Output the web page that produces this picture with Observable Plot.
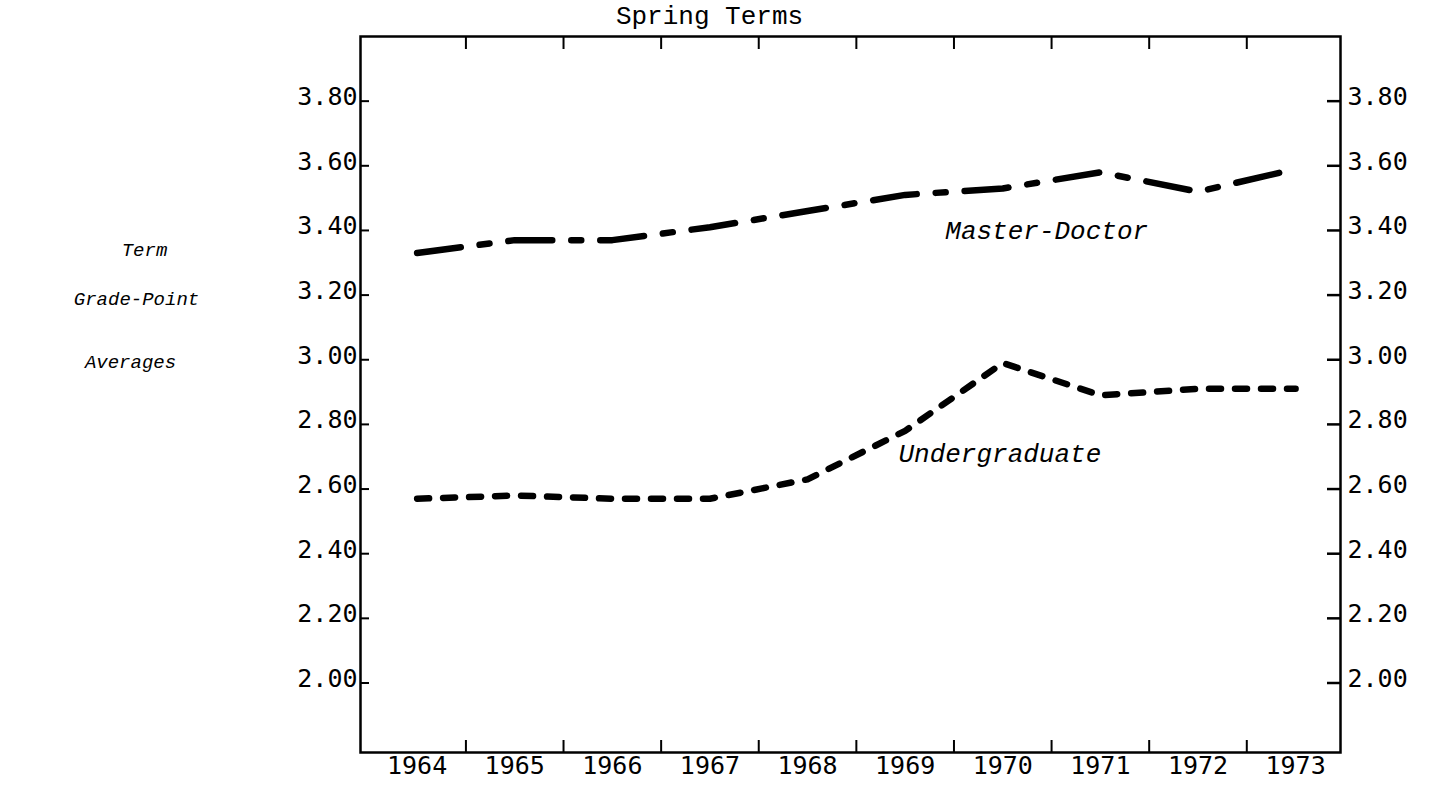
<!DOCTYPE html>
<html>
<head>
<meta charset="utf-8">
<script src="https://cdn.jsdelivr.net/npm/d3@7"></script>
<script src="https://cdn.jsdelivr.net/npm/@observablehq/plot@0.6"></script>
<style>
  html, body { margin: 0; padding: 0; background: #fff; }
  #chart svg { display: block; }
</style>
</head>
<body>
<div id="chart"></div>
<script>
// ---- data ----
const years = [1964, 1965, 1966, 1967, 1968, 1969, 1970, 1971, 1972, 1973];
const masterDoctor = [3.33, 3.37, 3.37, 3.41, 3.46, 3.51, 3.53, 3.58, 3.52, 3.59];
const undergraduate = [2.57, 2.58, 2.57, 2.57, 2.63, 2.78, 2.99, 2.89, 2.91, 2.91];
const yTicks = [2.00, 2.20, 2.40, 2.60, 2.80, 3.00, 3.20, 3.40, 3.60, 3.80];
const xBoundaries = [1964.5, 1965.5, 1966.5, 1967.5, 1968.5, 1969.5, 1970.5, 1971.5, 1972.5];
const title = "Spring Terms";
const yLabelLines = ["Term", "Grade-Point", "Averages"];
const seriesNames = ["Master-Doctor", "Undergraduate"];

// ---- layout ----
const W = 1432, H = 789;
const mL = 360, mR = 92, mT = 36, mB = 37;
const plotW = W - mL - mR, plotH = H - mT - mB;

const mdData = years.map((yr, i) => ({year: yr, gpa: masterDoctor[i]}));
const ugData = years.map((yr, i) => ({year: yr, gpa: undergraduate[i]}));
const fmt = d3.format(".2f");
const mono = "'DejaVu Sans Mono', monospace";
const typeMono = "'Liberation Mono', 'Courier New', monospace";

const yLabelDx = [-216, -224, -230];
const yLabelDy = [-145, -96, -33];

const chart = Plot.plot({
  width: W, height: H,
  marginLeft: mL, marginRight: mR, marginTop: mT, marginBottom: mB,
  x: {domain: [1963.42, 1973.46], axis: null},
  y: {domain: [1.785, 4.0], axis: null},
  style: {fontFamily: mono, fontSize: "25px", color: "#000", background: "#fff"},
  marks: [
    Plot.frame({stroke: "#000", strokeWidth: 2.5}),
    // inward ticks on top and bottom
    Plot.tickX(xBoundaries, {x: d => d, stroke: "#000", strokeWidth: 2, insetBottom: plotH - 13}),
    Plot.tickX(xBoundaries, {x: d => d, stroke: "#000", strokeWidth: 2, insetTop: plotH - 12}),
    // inward ticks on left and right
    Plot.tickY(yTicks, {y: d => d, stroke: "#000", strokeWidth: 2, insetRight: plotW - 9}),
    Plot.tickY(yTicks, {y: d => d, stroke: "#000", strokeWidth: 2.5, insetLeft: plotW - 13}),
    // y tick labels (baseline sits on the tick)
    Plot.text(yTicks, {y: d => d, text: d => fmt(d), frameAnchor: "left", textAnchor: "end", lineAnchor: "bottom", dx: -3, dy: 4, fontSize: 25, fontFamily: mono}),
    Plot.text(yTicks, {y: d => d, text: d => fmt(d), frameAnchor: "right", textAnchor: "start", lineAnchor: "bottom", dx: 7, dy: 4, fontSize: 25, fontFamily: mono}),
    // x labels
    Plot.text(years, {x: d => d, text: d => String(d), frameAnchor: "bottom", lineAnchor: "top", dy: 4, fontSize: 25, fontFamily: mono}),
    // lines
    Plot.lineY(mdData, {x: "year", y: "gpa", stroke: "#000", strokeWidth: 6.5, strokeLinecap: "round", strokeLinejoin: "round", strokeDasharray: "44,19,10,19"}),
    Plot.lineY(ugData, {x: "year", y: "gpa", stroke: "#000", strokeWidth: 6.5, strokeLinecap: "round", strokeLinejoin: "round", strokeDasharray: "12,14"}),
    // series labels
    Plot.text([seriesNames[0]], {x: () => 1970.45, y: () => 3.40, text: d => d, fontStyle: "italic", fontFamily: typeMono, fontSize: 26}),
    Plot.text([seriesNames[1]], {x: () => 1969.97, y: () => 2.71, text: d => d, fontStyle: "italic", fontFamily: typeMono, fontSize: 26}),
    // title
    Plot.text([title], {frameAnchor: "top-left", textAnchor: "middle", dx: 349, dy: -13, lineAnchor: "bottom", text: d => d, fontFamily: typeMono, fontSize: 26}),
    // y axis label (three lines)
    ...yLabelLines.map((line, i) =>
      Plot.text([line], {frameAnchor: "left", textAnchor: "middle", dx: yLabelDx[i], dy: yLabelDy[i], text: d => d, fontStyle: "italic", fontFamily: typeMono, fontSize: 19})
    )
  ]
});
document.getElementById("chart").appendChild(chart);
</script>
</body>
</html>
